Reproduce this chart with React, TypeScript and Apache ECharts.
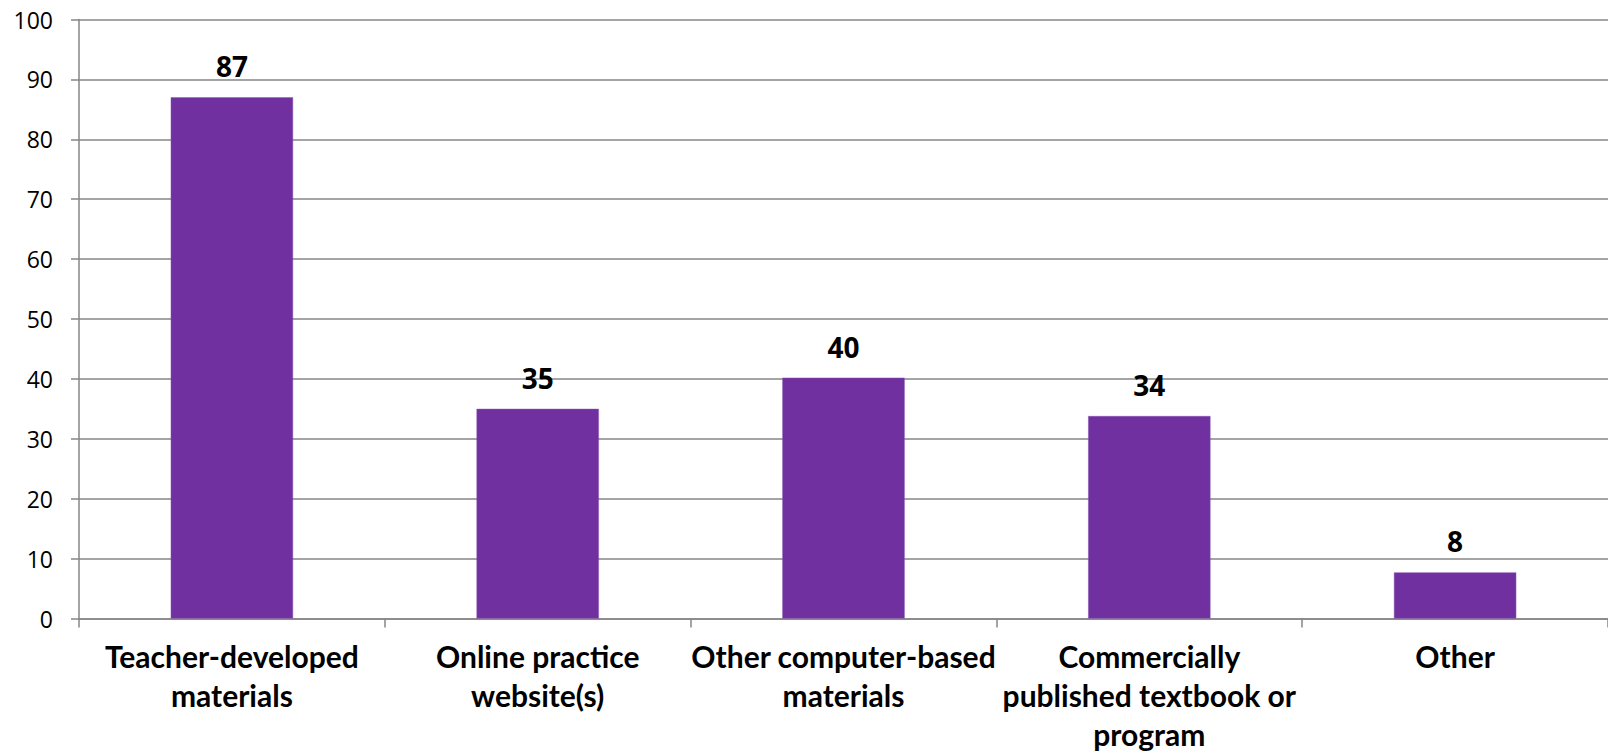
import React, { useEffect, useRef } from "react";
import * as echarts from "echarts";

const categories = [
  "Teacher-developed\nmaterials",
  "Online practice\nwebsite(s)",
  "Other computer-based\nmaterials",
  "Commercially\npublished textbook or\nprogram",
  "Other",
];
const values = [87, 35, 40.2, 33.8, 7.7];
const yMin = 0;
const yMax = 100;
const yInterval = 10;

const LABEL_FONT = "Lato, 'Open Sans', sans-serif";
const NUM_FONT = "'Open Sans', Lato, sans-serif";

export default function App() {
  const ref = useRef<HTMLDivElement>(null);
  useEffect(() => {
    if (!ref.current) return;
    const chart = echarts.init(ref.current, undefined, { renderer: "svg" });
    chart.setOption({
      animation: false,
      grid: { left: 79, right: 0, top: 19.5, bottom: 136.5, containLabel: false },
      xAxis: {
        type: "category",
        data: categories,
        axisLine: { show: true, lineStyle: { color: "#868686", width: 1.5 } },
        axisTick: { show: true, length: 9, lineStyle: { color: "#868686", width: 1.5 } },
        axisLabel: {
          color: "#000",
          fontFamily: LABEL_FONT,
          fontWeight: "bold",
          fontSize: 30,
          lineHeight: 39,
          margin: 18,
          interval: 0,
        },
        splitLine: { show: false },
      },
      yAxis: {
        type: "value",
        min: yMin,
        max: yMax,
        interval: yInterval,
        axisLine: { show: true, lineStyle: { color: "#868686", width: 1.5 } },
        axisTick: { show: true, length: 8, lineStyle: { color: "#868686", width: 1.5 } },
        axisLabel: { color: "#000", fontFamily: NUM_FONT, fontSize: 23, margin: 26 },
        splitLine: { show: true, lineStyle: { color: "#868686", width: 1.5 } },
      },
      series: [
        {
          type: "bar",
          data: values,
          barWidth: "40%",
          itemStyle: { color: "#7030A0", borderColor: "#8a55b5", borderWidth: 0.5 },
          label: {
            show: true,
            position: "top",
            distance: 17,
            color: "#000",
            fontFamily: NUM_FONT,
            fontWeight: "bold",
            fontSize: 28,
            formatter: (p: any) => String(Math.round(p.value)),
          },
        },
      ],
    });
    return () => chart.dispose();
  }, []);
  return (
    <div
      ref={ref}
      style={{ position: "fixed", left: 0, top: 0, width: 1608, height: 755, background: "#fff" }}
    />
  );
}
